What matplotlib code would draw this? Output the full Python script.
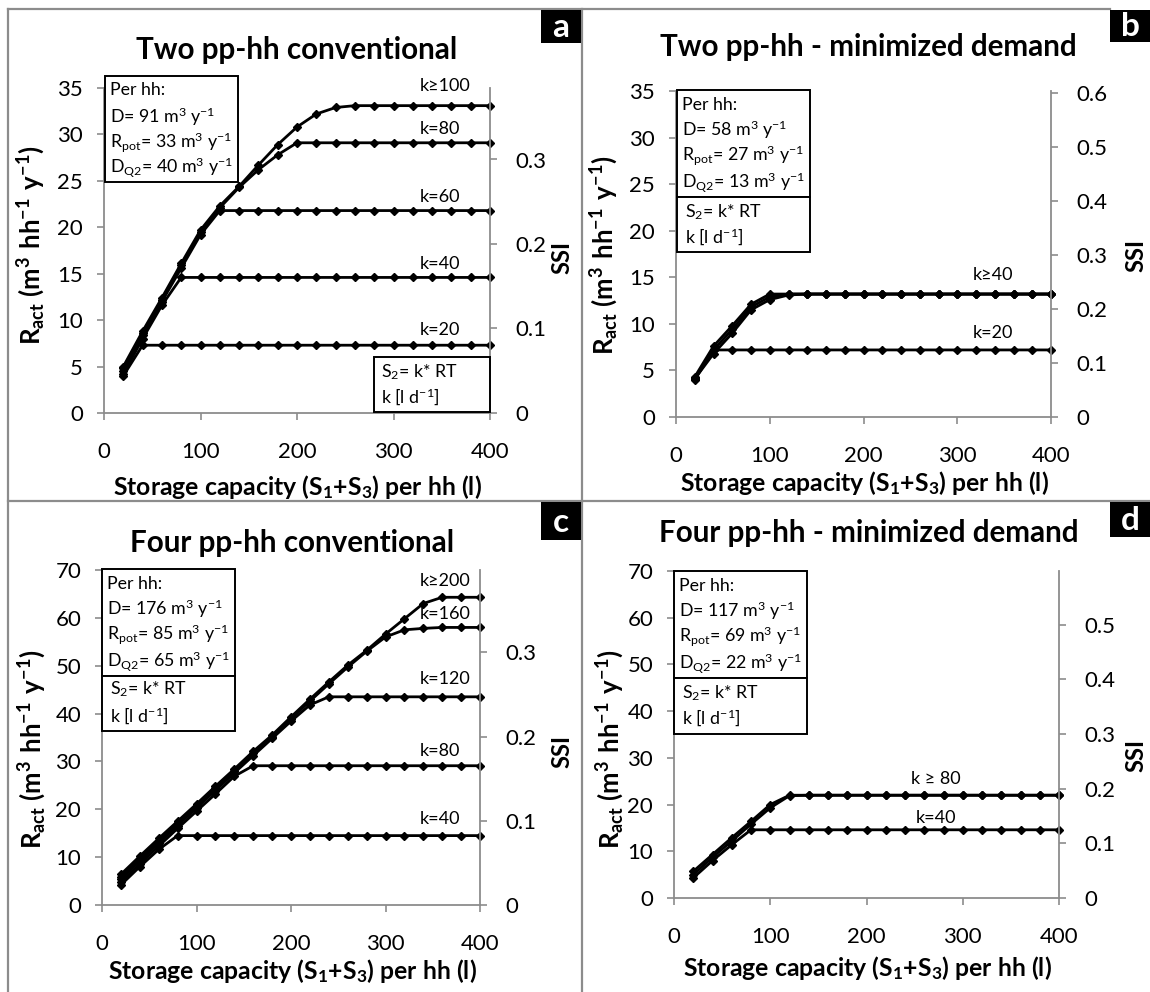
import matplotlib
matplotlib.use("Agg")
import matplotlib.pyplot as plt
from matplotlib.patches import Rectangle
from matplotlib.lines import Line2D
from matplotlib.ticker import FuncFormatter

plt.rcParams['font.family'] = ['Lato', 'DejaVu Sans']
plt.rcParams['mathtext.fontset'] = 'custom'
plt.rcParams['mathtext.rm'] = 'Lato'
plt.rcParams['mathtext.bf'] = 'Lato:bold'
plt.rcParams['mathtext.default'] = 'regular'

W, H = 1150, 992
GRAY = '#8c8c8c'

# storage capacity (S1+S3) per hh, litres
storage = [20, 40, 60, 80, 100, 120, 140, 160, 180, 200,
           220, 240, 260, 280, 300, 320, 340, 360, 380, 400]

# panel a: two pp-hh conventional
a_k20 = [4.0, 7.3, 7.3, 7.3, 7.3, 7.3, 7.3, 7.3, 7.3, 7.3, 7.3, 7.3, 7.3, 7.3, 7.3, 7.3, 7.3, 7.3, 7.3, 7.3]
a_k40 = [4.2, 8.0, 11.6, 14.6, 14.6, 14.6, 14.6, 14.6, 14.6, 14.6, 14.6, 14.6, 14.6, 14.6, 14.6, 14.6, 14.6, 14.6, 14.6, 14.6]
a_k60 = [4.5, 8.4, 12.0, 15.6, 19.2, 21.8, 21.8, 21.8, 21.8, 21.8, 21.8, 21.8, 21.8, 21.8, 21.8, 21.8, 21.8, 21.8, 21.8, 21.8]
a_k80 = [4.8, 8.6, 12.2, 15.9, 19.5, 22.1, 24.3, 26.2, 27.8, 29.1, 29.1, 29.1, 29.1, 29.1, 29.1, 29.1, 29.1, 29.1, 29.1, 29.1]
a_k100 = [5.0, 8.8, 12.4, 16.1, 19.7, 22.3, 24.4, 26.7, 28.9, 30.8, 32.2, 32.9, 33.1, 33.1, 33.1, 33.1, 33.1, 33.1, 33.1, 33.1]

# panel b: two pp-hh minimized demand
b_k20 = [4.0, 7.2, 7.2, 7.2, 7.2, 7.2, 7.2, 7.2, 7.2, 7.2, 7.2, 7.2, 7.2, 7.2, 7.2, 7.2, 7.2, 7.2, 7.2, 7.2]
b_k40 = [4.1, 6.8, 9.0, 11.5, 12.6, 13.1, 13.2, 13.2, 13.2, 13.2, 13.2, 13.2, 13.2, 13.2, 13.2, 13.2, 13.2, 13.2, 13.2, 13.2]
b_k60 = [4.2, 7.2, 9.4, 11.8, 12.9, 13.2, 13.2, 13.2, 13.2, 13.2, 13.2, 13.2, 13.2, 13.2, 13.2, 13.2, 13.2, 13.2, 13.2, 13.2]
b_k80 = [4.3, 7.6, 9.8, 12.1, 13.2, 13.2, 13.2, 13.2, 13.2, 13.2, 13.2, 13.2, 13.2, 13.2, 13.2, 13.2, 13.2, 13.2, 13.2, 13.2]

# panel c: four pp-hh conventional
c_k40 = [4.2, 8.0, 11.6, 14.5, 14.5, 14.5, 14.5, 14.5, 14.5, 14.5, 14.5, 14.5, 14.5, 14.5, 14.5, 14.5, 14.5, 14.5, 14.5, 14.5]
c_k80 = [4.8, 8.6, 12.3, 16.0, 19.6, 23.2, 26.9, 29.1, 29.1, 29.1, 29.1, 29.1, 29.1, 29.1, 29.1, 29.1, 29.1, 29.1, 29.1, 29.1]
c_k120 = [5.4, 9.2, 12.9, 16.6, 20.3, 23.9, 27.6, 31.2, 34.8, 38.4, 41.8, 43.5, 43.5, 43.5, 43.5, 43.5, 43.5, 43.5, 43.5, 43.5]
c_k160 = [5.9, 9.7, 13.4, 17.1, 20.7, 24.4, 28.0, 31.7, 35.2, 38.9, 42.6, 46.2, 49.7, 53.0, 56.0, 57.5, 57.8, 58.0, 58.0, 58.0]
c_k200 = [6.4, 10.2, 13.9, 17.5, 21.1, 24.8, 28.4, 32.1, 35.5, 39.3, 43.0, 46.6, 50.1, 53.2, 56.6, 59.8, 63.0, 64.3, 64.3, 64.3]

# panel d: four pp-hh minimized demand
d_k40 = [4.3, 8.0, 11.4, 14.6, 14.6, 14.6, 14.6, 14.6, 14.6, 14.6, 14.6, 14.6, 14.6, 14.6, 14.6, 14.6, 14.6, 14.6, 14.6, 14.6]
d_k80 = [5.0, 8.7, 12.2, 15.8, 19.3, 21.9, 22.0, 22.0, 22.0, 22.0, 22.0, 22.0, 22.0, 22.0, 22.0, 22.0, 22.0, 22.0, 22.0, 22.0]
d_k120 = [5.7, 9.3, 12.9, 16.4, 20.0, 22.0, 22.0, 22.0, 22.0, 22.0, 22.0, 22.0, 22.0, 22.0, 22.0, 22.0, 22.0, 22.0, 22.0, 22.0]

titles = ['Two pp-hh conventional', 'Two pp-hh - minimized demand',
          'Four pp-hh conventional', 'Four pp-hh - minimized demand']
demand = [91, 58, 176, 117]
r_pot = [33, 27, 85, 69]
d_q2 = [40, 13, 65, 22]
y_max = [35, 35, 70, 70]
y_step = [5, 5, 10, 10]

a_labels = ['k=20', 'k=40', 'k=60', 'k=80', 'k\u2265100']
b_labels = ['k=20', 'k\u226540']
c_labels = ['k=40', 'k=80', 'k=120', 'k=160', 'k\u2265200']
d_labels = ['k=40', 'k \u2265 80']


def fx(x):
    return x / W


def fy(y):
    return 1 - y / H


fig = plt.figure(figsize=(W / 100, H / 100), dpi=100)

# panel geometry in pixels: left, right, top, bottom of plot area
boxes = [(104, 490, 88, 413), (676, 1051, 91, 417), (102, 480, 570, 905), (674, 1059, 571, 898)]
title_pos = [(297, 50), (868, 47), (292, 543), (869, 533)]
ylab_pos = [(31, 245), (604, 255), (32, 749), (610, 749)]
ssi_pos = [(562, 258), (1136, 255), (562, 751), (1136, 756)]
xlab_pos = [(297, 487), (864, 483), (292, 971), (867, 968)]
series = [[a_k20, a_k40, a_k60, a_k80, a_k100],
          [b_k20, b_k40, b_k60, b_k80],
          [c_k40, c_k80, c_k120, c_k160, c_k200],
          [d_k40, d_k80, d_k120]]
labels = [a_labels, b_labels, c_labels, d_labels]
label_xy = [[(327, 8.9), (327, 16.0), (327, 23.3), (327, 30.6), (327, 35.2)],
            [(316, 9.0), (316, 15.25)],
            [(336, 18.0), (336, 32.2), (336, 47.2), (336, 60.8), (336, 67.7)],
            [(272, 17.1), (272, 25.5)]]
label_ha = ['left', 'left', 'left', 'center']

info_box = [(105, 238, 76, 182), (677, 810, 90, 197), (102, 235, 569, 676), (674, 807, 571, 678)]
info_lines_y = [[90, 117, 142, 167], [105, 130, 155, 182], [584, 609, 634, 661], [586, 611, 636, 663]]
info_x = [110, 682, 107, 679]
k_box = [(374, 490, 357, 412), (677, 810, 197, 252), (102, 235, 676, 731), (674, 807, 678, 734)]
k_lines_y = [[372, 397], [212, 237], [689, 716], [693, 718]]
k_x = [381, 685, 110, 682]
letters = ['a', 'b', 'c', 'd']
letter_box = [(541, 581, 10, 43), (1110, 1150, 10, 42), (541, 581, 502, 540), (1110, 1150, 502, 537)]

ssi_fmt = FuncFormatter(lambda v, p: '0' if abs(v) < 1e-9 else '%.1f' % v)

for i in range(4):
    l, r, t, b = boxes[i]
    ax = fig.add_axes([fx(l), fy(b), fx(r - l), (b - t) / H])
    for yv in series[i]:
        ax.plot(storage, yv, color='black', lw=2.0, marker='D', ms=3.8, clip_on=False, zorder=3)
    ax.set_xlim(0, 400)
    ax.set_ylim(0, y_max[i])
    ax.set_xticks([0, 100, 200, 300, 400])
    ax.set_yticks(range(0, y_max[i] + 1, y_step[i]))
    for s in ['top', 'right']:
        ax.spines[s].set_visible(False)
    for s in ['left', 'bottom']:
        ax.spines[s].set_color(GRAY)
        ax.spines[s].set_linewidth(1.3)
    ax.tick_params(axis='both', direction='out', length=5, width=1.2, color=GRAY, labelsize=16)
    ax.tick_params(axis='y', pad=10)
    ax.tick_params(axis='x', pad=16)

    ax2 = ax.twinx()
    ax2.set_ylim(0, y_max[i] / demand[i])
    top_tick = int(y_max[i] / demand[i] * 10 + 1e-9)
    ax2.set_yticks([v / 10 for v in range(0, top_tick + 1)])
    ax2.yaxis.set_major_formatter(ssi_fmt)
    for s in ['top', 'left', 'bottom']:
        ax2.spines[s].set_visible(False)
    ax2.spines['right'].set_color(GRAY)
    ax2.spines['right'].set_linewidth(1.3)
    ax2.tick_params(axis='y', direction='out', length=5, width=1.2, color=GRAY, labelsize=16, pad=13)

    for (lx, ly), txt in zip(label_xy[i], labels[i]):
        ax.text(lx, ly, txt, fontsize=13, ha=label_ha[i], va='center', clip_on=False)

    fig.text(fx(title_pos[i][0]), fy(title_pos[i][1]), titles[i], fontsize=21.3,
             fontweight='bold', ha='center', va='center')
    fig.text(fx(ylab_pos[i][0]), fy(ylab_pos[i][1]),
             r'$\mathbf{R_{act}}$ $\mathbf{(m^3\ hh^{-1}\ y^{-1})}$',
             fontsize=18.5, fontweight='bold', rotation=90, ha='center', va='center')
    fig.text(fx(ssi_pos[i][0]), fy(ssi_pos[i][1]), 'SSI', fontsize=17,
             fontweight='bold', rotation=90, ha='center', va='center')
    fig.text(fx(xlab_pos[i][0]), fy(xlab_pos[i][1]),
             r'Storage capacity ($\mathbf{S_1}$+$\mathbf{S_3}$) per hh (l)',
             fontsize=17.8, fontweight='bold', ha='center', va='center')

    # info boxes
    bl, br, bt, bb = info_box[i]
    fig.add_artist(Rectangle((fx(bl), fy(bb)), fx(br - bl), (bb - bt) / H, transform=fig.transFigure,
                             fill=True, facecolor='white', edgecolor='black', lw=1.4, zorder=5))
    info = ['Per hh:',
            'D= %d m$^3$ y$^{-1}$' % demand[i],
            'R$_{pot}$= %d m$^3$ y$^{-1}$' % r_pot[i],
            'D$_{Q2}$= %d m$^3$ y$^{-1}$' % d_q2[i]]
    for yy, txt in zip(info_lines_y[i], info):
        fig.text(fx(info_x[i]), fy(yy), txt, fontsize=12.8, ha='left', va='center', zorder=6)
    bl, br, bt, bb = k_box[i]
    fig.add_artist(Rectangle((fx(bl), fy(bb)), fx(br - bl), (bb - bt) / H, transform=fig.transFigure,
                             fill=True, facecolor='white', edgecolor='black', lw=1.4, zorder=5))
    for yy, txt in zip(k_lines_y[i], ['S$_2$= k* RT', 'k [l d$^{-1}$]']):
        fig.text(fx(k_x[i]), fy(yy), txt, fontsize=12.8, ha='left', va='center', zorder=6)

    # panel letter
    bl, br, bt, bb = letter_box[i]
    fig.add_artist(Rectangle((fx(bl), fy(bb)), fx(br - bl), (bb - bt) / H, transform=fig.transFigure,
                             facecolor='black', edgecolor='none', zorder=5))
    fig.text(fx((bl + br) / 2), fy((bt + bb) / 2 + 1), letters[i], color='white', fontsize=24,
             fontweight='bold', ha='center', va='center', zorder=6)

# panel frame lines
frame = [((8, 8), (9, 992)), ((8, 1110), (9, 9)), ((582, 582), (9, 992)), ((8, 1150), (501, 501))]
for xs, ys in frame:
    fig.add_artist(Line2D([fx(v) for v in xs], [fy(v) for v in ys], color=GRAY, lw=1.6,
                          transform=fig.transFigure, zorder=4))

fig.savefig('out.png', dpi=100)
